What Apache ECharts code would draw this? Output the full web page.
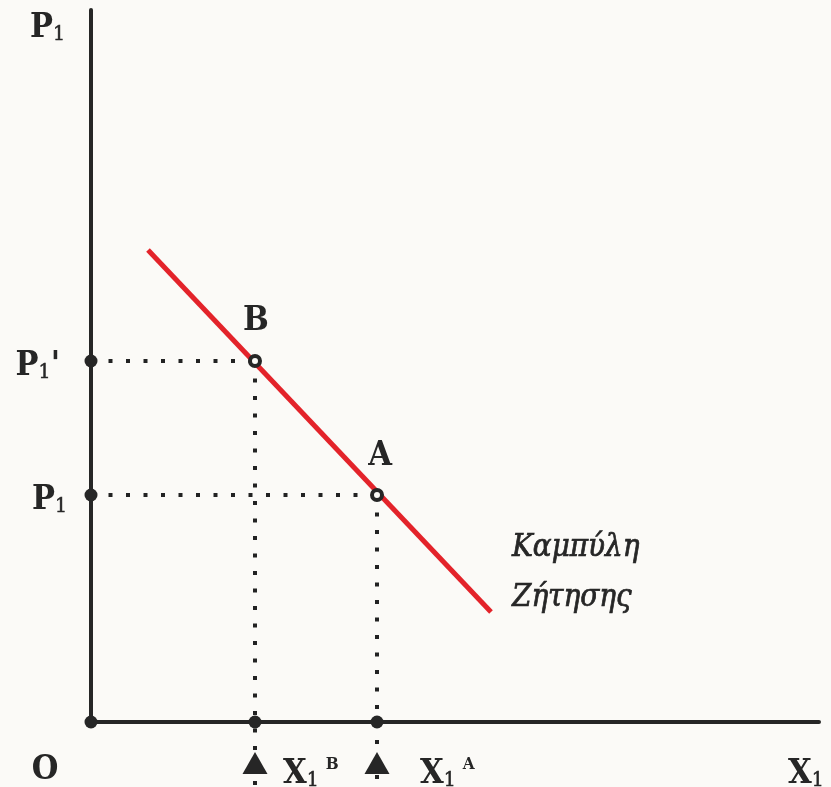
<!DOCTYPE html>
<html>
<head>
<meta charset="utf-8">
<script src="https://cdn.jsdelivr.net/npm/echarts@6/dist/echarts.min.js"></script>
<style>
html,body{margin:0;padding:0;background:#fbfaf7;}
#chart{width:831px;height:787px;}
</style>
</head>
<body>
<div id="chart"></div>
<script>
// ---- data (values in chart units) ----
const xMax = 728;
const yMax = 712;
const quantityB = 164;   // X1^B
const quantityA = 286;   // X1^A
const priceB = 361;      // P1'
const priceA = 227;      // P1
const demandX = [57, 400];
const demandY = [472, 110];
const guideBottom = -65;
const triangleLevel = -41;

const labelTexts = ['{p|P}{s|1}', "{p|P}{s|1}{p|'}", '{p|P}{s|1}', '{p|O}', '{p|X}{s|1}{sup|B}', '{p|X}{s|1}{sup|A}', '{p|X}{s|1}', '{p|B}', '{p|A}'];
const labelX = [-26, -31, -24, -46, 192, 329, 697, 165, 289];
const labelY = [699, priceB, priceA, -47, -47, -47, -47, 402, 267];
const labelAlign = ['right', 'right', 'right', 'center', 'left', 'left', 'left', 'center', 'center'];
const curveName = ['Καμπύλη', 'Ζήτησης'];
const curveNameX = [421, 421];
const curveNameY = [174, 124];

const INK = '#262626';
const BG = '#fbfaf7';
const SERIF = '"DejaVu Serif Condensed", "DejaVu Serif", serif';

const rich = {
  p: {fontFamily: SERIF, fontWeight: 'bold', fontSize: 34, color: INK, verticalAlign: 'bottom', lineHeight: 36},
  s: {fontFamily: SERIF, fontWeight: 'normal', fontSize: 21, color: INK, verticalAlign: 'bottom', lineHeight: 44,
      textBorderColor: INK, textBorderWidth: 0.5},
  sup: {fontFamily: SERIF, fontWeight: 'bold', fontSize: 17, color: INK, verticalAlign: 'top', lineHeight: 18, padding: [9, 0, 0, 7]}
};

const dotted = {color: '#222', width: 4, type: [4, 13.5], cap: 'butt', opacity: 1};
function guide(pts) {
  return {type: 'line', data: pts, symbol: 'none', clip: false, z: 1, silent: true,
    lineStyle: dotted, animation: false};
}

const labelData = labelTexts.map((t, i) => ({
  value: [labelX[i], labelY[i]],
  label: {show: true, formatter: t, rich: rich, position: [0, 0], align: labelAlign[i], verticalAlign: 'middle'}
}));
const curveLabelData = curveName.map((t, i) => ({
  value: [curveNameX[i], curveNameY[i]],
  label: {show: true, formatter: t, position: [0, 0], align: 'left', verticalAlign: 'middle',
    fontFamily: SERIF, fontStyle: 'italic', fontSize: 31, color: INK, textBorderColor: INK, textBorderWidth: 0.7}
}));

const chart = echarts.init(document.getElementById('chart'), null, {renderer: 'canvas'});
chart.setOption({
  backgroundColor: BG,
  animation: false,
  grid: {left: 91, right: 12, top: 10, bottom: 65},
  xAxis: {type: 'value', min: 0, max: xMax,
    axisLine: {show: true, lineStyle: {color: INK, width: 4}},
    axisTick: {show: false}, axisLabel: {show: false}, splitLine: {show: false}},
  yAxis: {type: 'value', min: 0, max: yMax,
    axisLine: {show: true, lineStyle: {color: INK, width: 4}},
    axisTick: {show: false}, axisLabel: {show: false}, splitLine: {show: false}},
  series: [
    guide([[0, priceB], [quantityB, priceB]]),
    guide([[quantityB, priceB], [quantityB, guideBottom]]),
    guide([[0, priceA], [quantityA, priceA]]),
    guide([[quantityA, priceA], [quantityA, guideBottom]]),
    {type: 'line', data: demandX.map((x, i) => [x, demandY[i]]), symbol: 'none', z: 3,
      lineStyle: {color: '#e3232a', width: 5}},
    {type: 'scatter', data: [[0, 0], [0, priceB], [0, priceA], [quantityB, 0], [quantityA, 0]],
      symbol: 'circle', symbolSize: 13, itemStyle: {color: INK, opacity: 1}, z: 4, clip: false},
    {type: 'scatter', data: [[quantityB, priceB], [quantityA, priceA]], symbol: 'circle', symbolSize: 10,
      itemStyle: {color: BG, borderColor: INK, borderWidth: 4, opacity: 1}, z: 5},
    {type: 'scatter', data: [[quantityB, triangleLevel], [quantityA, triangleLevel]], symbol: 'triangle',
      symbolSize: [25, 22], itemStyle: {color: INK, opacity: 1}, z: 5, clip: false},
    {type: 'scatter', data: labelData, symbolSize: 0, itemStyle: {opacity: 1}, z: 6, clip: false, silent: true},
    {type: 'scatter', data: curveLabelData, symbolSize: 0, itemStyle: {opacity: 1}, z: 6, clip: false, silent: true}
  ]
});
</script>
</body>
</html>
